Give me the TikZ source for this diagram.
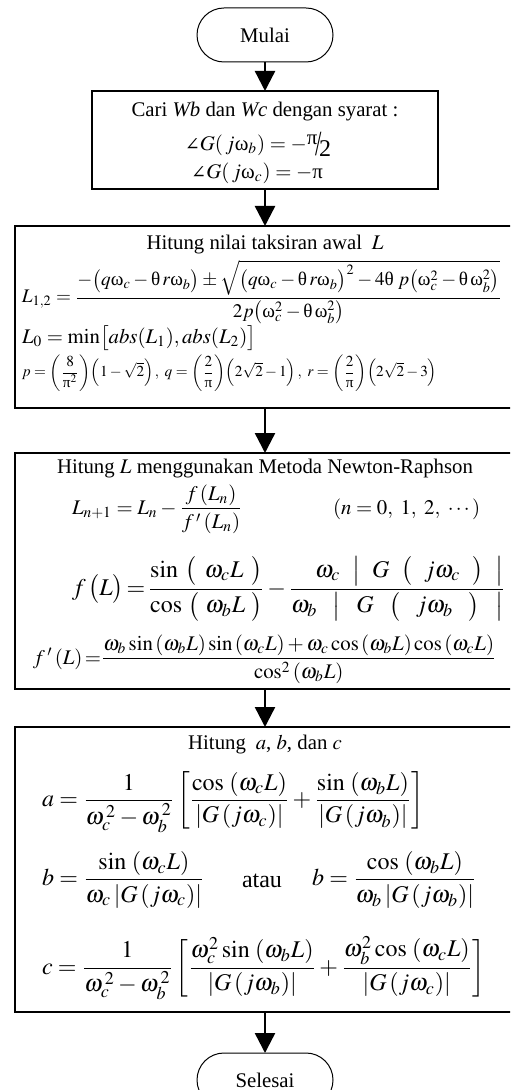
\documentclass[tikz,border=0pt]{standalone}
\usepackage{amsmath}
\usepackage{graphicx}
\usepackage{mathptmx}
\usepackage{fontspec}
\setmainfont{Liberation Serif}
\newfontfamily\dvs{DejaVu Serif}
\usetikzlibrary{arrows.meta,shapes.misc}
\newcommand{\fs}{\fontsize{10.4}{12.5}\selectfont}
\newcommand{\uw}{\text{\normalfont ω}}
\newcommand{\up}{\text{\normalfont π}}
\newcommand{\uth}{\text{\normalfont θ}}
\newcommand{\ang}{\text{\dvs\fontsize{9}{10}\selectfont ∠}}
\newcommand{\pifrac}{\text{\raisebox{0.6ex}{\normalfont π}\hspace{-0.1em}\raisebox{-0.5ex}{\scalebox{1.1}[1.7]{/}}\hspace{-0.12em}\raisebox{-0.6ex}{\normalfont\fontsize{12}{14}\selectfont 2}}}
\begin{document}
\begin{tikzpicture}[x=0.5pt,y=-0.5pt,
  every node/.style={font=\fs, inner sep=0pt, outer sep=0pt},
  oval/.style={draw, rounded rectangle, minimum width=68pt, minimum height=27pt, line width=0.5pt},
  procbox/.style={draw, rectangle, line width=0.6pt},
  arr/.style={line width=1.2pt, -{Triangle[length=10pt,width=10pt]}},
  big/.style={font=\fontsize{12}{14}\selectfont},
  small/.style={font=\fontsize{8}{9.6}\selectfont}]
\useasboundingbox (0,0) rectangle (510,1090);
\clip (0,0) rectangle (510,1090);
% boxes
\node[oval] (mulai) at (265,35) {Mulai};
\node[procbox, minimum width=173pt, minimum height=49pt] (b1) at (265,140) {};
\node[procbox, minimum width=250pt, minimum height=91pt] (b2) at (265,317) {};
\node[procbox, minimum width=250pt, minimum height=118pt] (b3) at (265,571) {};
\node[procbox, minimum width=250pt, minimum height=142.5pt] (b4) at (265,869.5) {};
\node[oval] (selesai) at (265,1080) {Selesai};
% arrows
\draw[arr] (mulai.south) -- (b1.north);
\draw[arr] (b1.south) -- (b2.north);
\draw[arr] (b2.south) -- (b3.north);
\draw[arr] (b3.south) -- (b4.north);
\draw[arr] (b4.south) -- (selesai.north);
% box 1
\node[anchor=base] (t1a) at (265,117) {Cari \textit{Wb} dan \textit{Wc} dengan syarat :};
\node (t1b) at (258,144) {$\ang G(\,j\uw_{b}) = -\pifrac$};
\node (t1c) at (257,173) {$\ang G(\,j\uw_{c}) = -\up$};
% box 2
\node[anchor=base] (t2a) at (265,250) {Hitung nilai taksiran awal $\;L$};
\node[anchor=west] (t2b) at (22,292) {\resizebox{240pt}{!}{$L_{1,2} = \dfrac{-\bigl(q\uw_{c} - \uth\, r\uw_{b}\bigr) \pm \sqrt{\bigl(q\uw_{c} - \uth\, r\uw_{b}\bigr)^{2} - 4\uth\; p\bigl(\uw_{c}^{2} - \uth\,\uw_{b}^{2}\bigr)}}{2p\bigl(\uw_{c}^{2} - \uth\,\uw_{b}^{2}\bigr)}$}};
\node[anchor=west] (t2c) at (22,338) {$L_{0} = \min\bigl[abs(L_{1}), abs(L_{2})\bigr]$};
\node[anchor=west, small] (t2d) at (22,373) {\resizebox{207.5pt}{!}{$p = \left(\dfrac{8}{\up^{2}}\right)\!\left(1-\sqrt{2}\right),\ q = \left(\dfrac{2}{\up}\right)\!\left(2\sqrt{2}-1\right),\ r = \left(\dfrac{2}{\up}\right)\!\left(2\sqrt{2}-3\right)$}};
% box 3
\node[anchor=base] (t3a) at (265,473) {Hitung $L$ menggunakan Metoda Newton-Raphson};
\node[anchor=west] (t3b) at (72,509) {$L_{n+1} = L_{n} - \dfrac{f\left(L_{n}\right)}{f\,'\left(L_{n}\right)}$};
\node[anchor=west] (t3c) at (333,509) {$(n = 0,\ 1,\ 2,\ \cdots)$};
\node[anchor=west, big] (t3d) at (72,589) {$f\,\bigl(L\bigr)\!=\!\dfrac{\makebox[56pt][s]{$\sin$ $\bigl($ $\omega_{c}L$ $\bigr)$}}{\makebox[56pt][s]{$\cos$ $\bigl($ $\omega_{b}L$ $\bigr)$}}\,{-}\,\dfrac{\makebox[106pt][r]{\makebox[94pt][s]{$\omega_{c}$ $\bigl|$ $G$ $\bigl($ $j\omega_{c}$ $\bigr)$ $\bigr|$}}}{\makebox[106pt][s]{$\omega_{b}$ $\bigl|$ $G$ $\bigl($ $j\omega_{b}$ $\bigr)$ $\bigr|$}}$};
\node[anchor=west] (t3e) at (33,659) {$f\,'\left(L\right) {=} \dfrac{\omega_{b}\sin\left(\omega_{b}L\right)\sin\left(\omega_{c}L\right) + \omega_{c}\cos\left(\omega_{b}L\right)\cos\left(\omega_{c}L\right)}{\cos^{2}\left(\omega_{b}L\right)}$};
% box 4
\node[anchor=base] (t4a) at (265,749) {Hitung $\;a$, $b$, dan $c$};
\node[anchor=west, big] (t4b) at (42,802) {$a = \dfrac{1}{\omega_{c}^{\,2} - \omega_{b}^{\,2}}\left[\dfrac{\cos\,\left(\omega_{c}L\right)}{\left|G\left(j\omega_{c}\right)\right|} + \dfrac{\sin\,\left(\omega_{b}L\right)}{\left|G\left(j\omega_{b}\right)\right|}\right]$};
\node[anchor=west, big] (t4c) at (42,880) {$b = \dfrac{\sin\,\left(\omega_{c}L\right)}{\omega_{c}\left|G\left(j\omega_{c}\right)\right|}$};
\node[anchor=west, big] (t4d) at (242,881) {atau};
\node[anchor=west, big] (t4e) at (312,880) {$b = \dfrac{\cos\,\left(\omega_{b}L\right)}{\omega_{b}\left|G\left(j\omega_{b}\right)\right|}$};
\node[anchor=west, big] (t4f) at (42,968) {$c = \dfrac{1}{\omega_{c}^{\,2} - \omega_{b}^{\,2}}\left[\dfrac{\omega_{c}^{2}\sin\,\left(\omega_{b}L\right)}{\left|G\left(j\omega_{b}\right)\right|} + \dfrac{\omega_{b}^{2}\cos\,\left(\omega_{c}L\right)}{\left|G\left(j\omega_{c}\right)\right|}\right]$};
\end{tikzpicture}
\end{document}
